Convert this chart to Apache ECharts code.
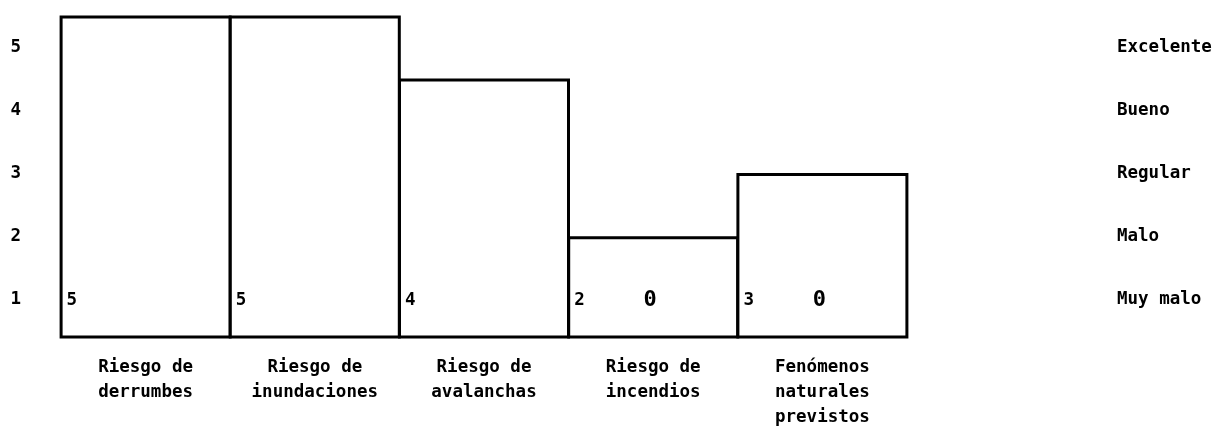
<!DOCTYPE html>
<html>
<head>
<meta charset="utf-8">
<script src="https://cdn.jsdelivr.net/npm/echarts@6/dist/echarts.min.js"></script>
<style>
  html, body { margin: 0; padding: 0; background: #fff; }
  #container { width: 1220px; height: 442px; }
</style>
</head>
<body>
<div id="container"></div>
<script>
// 类别（x 轴）
const categorias = [
  'Riesgo de\nderrumbes',
  'Riesgo de\ninundaciones',
  'Riesgo de\navalanchas',
  'Riesgo de\nincendios',
  'Fenómenos\nnaturales\nprevistos'
];
// 柱子画出来的高度（按左侧刻度读取）
const alturas = [5.5, 5.5, 4.5, 2, 3];
// 柱内左下角的分数
const puntajes = [5, 5, 4, 2, 3];
// 柱内中间的 "0" 标记（放在刻度 1 的高度）
const marcas = ['-', '-', '-', 1, 1];
// 右侧刻度文字
const calificaciones = { 1: 'Muy malo', 2: 'Malo', 3: 'Regular', 4: 'Bueno', 5: 'Excelente' };

const fuente = '"DejaVu Sans Mono", "Liberation Mono", monospace';

const dom = document.getElementById('container');
const myChart = echarts.init(dom);

// 只显示整数刻度
function soloEnteros(v) {
  return Math.abs(v - Math.round(v)) < 1e-6 ? String(Math.round(v)) : '';
}

// 通用文字样式
const texto = {
  color: '#000',
  fontFamily: fuente,
  fontWeight: 'bold',
  fontSize: 17.5
};

const option = {
  animation: false,
  backgroundColor: '#fff',
  grid: { left: 61, right: 313, top: 15.5, bottom: 105 },
  xAxis: {
    type: 'category',
    data: categorias,
    axisLine: { show: false },
    axisTick: { show: false },
    axisLabel: Object.assign({ margin: 18, lineHeight: 25 }, texto)
  },
  yAxis: [
    {
      type: 'value',
      min: 0.4,
      max: 5.5,
      splitNumber: 5,
      splitLine: { show: false },
      axisLine: { show: false },
      axisTick: { show: false },
      axisLabel: Object.assign({ margin: 40, formatter: soloEnteros }, texto)
    },
    {
      type: 'value',
      min: 0.4,
      max: 5.5,
      splitNumber: 5,
      position: 'right',
      splitLine: { show: false },
      axisLine: { show: false },
      axisTick: { show: false },
      axisLabel: Object.assign({
        margin: 210,
        formatter: function (v) {
          const k = soloEnteros(v);
          return k ? (calificaciones[k] || '') : '';
        }
      }, texto)
    }
  ],
  series: [
    {
      type: 'bar',
      data: alturas,
      // 略宽于类目带，让相邻柱子的边框重合成一条线
      barWidth: 172,
      itemStyle: { color: '#fff', borderColor: '#000', borderWidth: 3 },
      label: Object.assign({
        show: true,
        position: [7, '100%'],
        offset: [0, -38],
        align: 'left',
        verticalAlign: 'middle',
        formatter: p => String(puntajes[p.dataIndex])
      }, texto)
    },
    {
      type: 'scatter',
      data: marcas,
      symbol: 'circle',
      symbolSize: 1,
      itemStyle: { color: 'rgba(0,0,0,0)', opacity: 1 },
      label: Object.assign({}, texto, {
        show: true,
        position: 'top',
        distance: -13,
        offset: [-3, 0],
        fontSize: 22,
        color: '#000',
        opacity: 1,
        textBorderWidth: 0,
        formatter: '0'
      })
    }
  ]
};

myChart.setOption(option, true);
</script>
</body>
</html>
